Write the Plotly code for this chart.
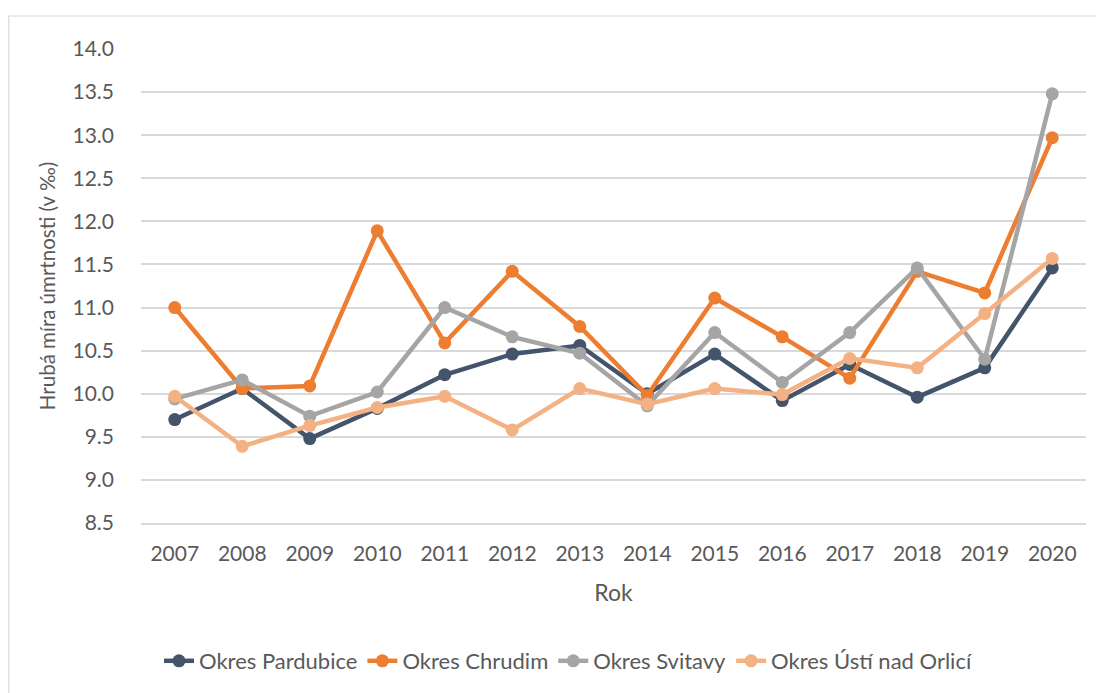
import plotly.graph_objects as go

years = [str(y) for y in range(2007, 2021)]
pardubice = [9.70, 10.06, 9.48, 9.83, 10.22, 10.46, 10.56, 10.00, 10.46, 9.92, 10.34, 9.96, 10.30, 11.46]
chrudim = [11.00, 10.06, 10.09, 11.89, 10.59, 11.42, 10.78, 9.98, 11.11, 10.66, 10.18, 11.42, 11.17, 12.97]
svitavy = [9.94, 10.16, 9.74, 10.02, 11.00, 10.66, 10.47, 9.86, 10.71, 10.13, 10.71, 11.46, 10.40, 13.48]
usti = [9.97, 9.39, 9.63, 9.84, 9.97, 9.58, 10.06, 9.88, 10.06, 9.99, 10.41, 10.30, 10.93, 11.57]

series_names = ["Okres Pardubice", "Okres Chrudim", "Okres Svitavy", "Okres Ústí nad Orlicí"]
series_vals = [pardubice, chrudim, svitavy, usti]
colors = ["#44546A", "#ED7D31", "#A5A5A5", "#F4B183"]
y_ticks = [8.5, 9.0, 9.5, 10.0, 10.5, 11.0, 11.5, 12.0, 12.5, 13.0, 13.5, 14.0]

fig = go.Figure()
for name, vals, c in zip(series_names, series_vals, colors):
    fig.add_trace(go.Scatter(
        x=years, y=vals, name=name, mode="lines+markers",
        line=dict(color=c, width=4.5),
        marker=dict(color=c, size=13),
    ))

font_family = "Lato, 'Open Sans', sans-serif"
txt = "#595959"

# page body has an 8px margin; figure sized to compensate
W, H = 1097, 685
L, R, T, B = 133, 19, 41, 170
pw = W - L - R
ph = H - T - B

fig.update_layout(
    width=W, height=H,
    margin=dict(l=L, r=R, t=T, b=B, autoexpand=False),
    paper_bgcolor="white", plot_bgcolor="white",
    font=dict(family=font_family, color=txt, size=21),
    showlegend=True,
    legend=dict(orientation="h", x=(568 - 8 - L) / pw, xanchor="center",
                y=(H - B - (661 - 8)) / ph, yanchor="middle",
                font=dict(size=22, color=txt), tracegroupgap=0),
    xaxis=dict(
        type="category", range=[-0.5, len(years) - 0.5],
        showgrid=False, zeroline=False,
        showline=True, linecolor="#D9D9D9", linewidth=1.5,
        ticks="", tickfont=dict(size=21, color=txt), ticklabelstandoff=11,
        title=dict(text="Rok", font=dict(size=23, color=txt), standoff=21),
        automargin=False,
    ),
    yaxis=dict(
        range=[8.5, 14.0], tickvals=y_ticks, ticktext=[f"{v:.1f}" for v in y_ticks],
        showgrid=True, gridcolor="#D9D9D9", gridwidth=1.5, zeroline=False,
        showline=False, ticks="", tickfont=dict(size=21, color=txt), ticklabelstandoff=26,
        title=dict(text="Hrubá míra úmrtnosti (v ‰)", font=dict(size=20.5, color=txt), standoff=11),
        automargin=False,
    ),
    shapes=[dict(
        type="rect", xref="paper", yref="paper", layer="below",
        x0=(0.8 - L) / pw, x1=(W + 10 - L) / pw,
        y0=(H - B - (H + 10)) / ph, y1=(H - B - 8) / ph,
        line=dict(color="#D9D9D9", width=1.2), fillcolor="rgba(0,0,0,0)",
    )],
)

fig.write_html("out.html")
